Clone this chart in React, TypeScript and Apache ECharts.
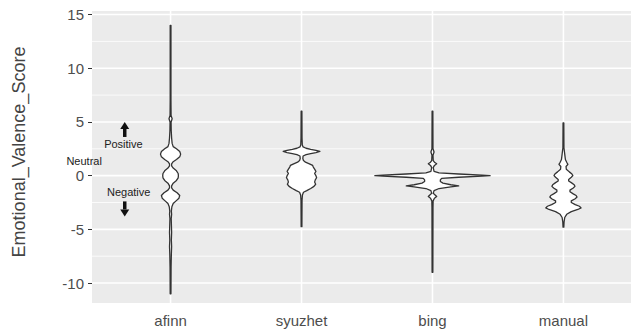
import React, { useEffect, useRef } from "react";
import * as echarts from "echarts";

// ---- data ----
const categories = ["afinn", "syuzhet", "bing", "manual"];
const yTicks = [-10, -5, 0, 5, 10, 15];
const yMinorBreaks = [-7.5, -2.5, 2.5, 7.5, 12.5];

// violin outlines: value (y) and half-width (in category units)
const afinnY = [14, 7, 5.6, 5.3, 5.0, 4.2, 3.5, 3.0, 2.7, 2.5, 2.25, 2.0, 1.75, 1.5, 1.3, 1.1, 0.9, 0.7, 0.45, 0.2, 0.0, -0.2, -0.45, -0.7, -0.95, -1.15, -1.35, -1.6, -1.85, -2.1, -2.35, -2.6, -2.9, -3.3, -3.6, -4.0, -5.3, -6.0, -6.6, -7.3, -8.5, -11];
const afinnW = [0.003, 0.003, 0.004, 0.012, 0.004, 0.005, 0.008, 0.012, 0.02, 0.045, 0.07, 0.077, 0.07, 0.045, 0.02, 0.008, 0.008, 0.02, 0.045, 0.058, 0.06, 0.058, 0.045, 0.02, 0.008, 0.008, 0.02, 0.05, 0.07, 0.064, 0.042, 0.02, 0.01, 0.006, 0.008, 0.005, 0.008, 0.006, 0.008, 0.006, 0.004, 0.003];

const syuzhetY = [6.0, 3.5, 2.85, 2.67, 2.55, 2.45, 2.35, 2.25, 2.15, 2.05, 1.95, 1.83, 1.6, 1.4, 1.25, 1.1, 0.95, 0.8, 0.6, 0.4, 0.2, 0.0, -0.2, -0.4, -0.6, -0.8, -1.0, -1.2, -1.4, -1.55, -1.8, -2.3, -4.75];
const syuzhetW = [0.003, 0.004, 0.006, 0.012, 0.035, 0.07, 0.11, 0.14, 0.11, 0.07, 0.035, 0.012, 0.01, 0.015, 0.03, 0.06, 0.085, 0.09, 0.1, 0.11, 0.1, 0.11, 0.115, 0.105, 0.1, 0.108, 0.095, 0.07, 0.04, 0.015, 0.007, 0.004, 0.003];

const bingY = [6, 2.5, 2.2, 1.9, 1.4, 1.25, 1.1, 0.95, 0.75, 0.4, 0.25, 0.15, 0.05, 0.0, -0.05, -0.15, -0.25, -0.4, -0.55, -0.7, -0.85, -0.95, -1.05, -1.2, -1.4, -1.65, -1.8, -1.95, -2.1, -2.35, -3, -9];
const bingW = [0.003, 0.004, 0.012, 0.004, 0.006, 0.015, 0.032, 0.015, 0.006, 0.012, 0.05, 0.2, 0.38, 0.44, 0.38, 0.2, 0.07, 0.06, 0.06, 0.08, 0.14, 0.2, 0.14, 0.05, 0.012, 0.006, 0.02, 0.032, 0.015, 0.005, 0.004, 0.003];

const manualY = [4.9, 2.6, 2.2, 1.8, 1.5, 1.25, 1.05, 0.85, 0.6, 0.35, 0.15, 0.0, -0.15, -0.35, -0.5, -0.65, -0.85, -1.0, -1.15, -1.35, -1.5, -1.7, -1.85, -2.0, -2.15, -2.35, -2.5, -2.7, -2.85, -3.0, -3.15, -3.35, -3.6, -3.9, -4.3, -4.8];
const manualW = [0.003, 0.004, 0.008, 0.012, 0.015, 0.025, 0.034, 0.02, 0.022, 0.045, 0.065, 0.072, 0.06, 0.04, 0.04, 0.06, 0.082, 0.088, 0.075, 0.05, 0.05, 0.075, 0.097, 0.104, 0.09, 0.06, 0.06, 0.09, 0.122, 0.135, 0.11, 0.06, 0.025, 0.01, 0.005, 0.003];

const violinY = [afinnY, syuzhetY, bingY, manualY];
const violinW = [afinnW, syuzhetW, bingW, manualW];

// annotations (data coordinates)
const annoLabels = ["Positive", "Neutral", "Negative"];
const annoX = [0.64, 0.34, 0.68];
const annoY = [2.9, 1.4, -1.5];
const arrowX = [0.65, 0.65];
const arrowFrom = [3.6, -2.4];
const arrowTo = [5.0, -3.8];

const FONT = "'Liberation Sans', Arial, sans-serif";

export default function App() {
  const ref = useRef<HTMLDivElement>(null);
  useEffect(() => {
    if (!ref.current) return;
    const chart = echarts.init(ref.current, undefined, { renderer: "svg" });

    const gridData: number[][] = [];
    yTicks.forEach((v) => gridData.push([0, v, 1]));
    yMinorBreaks.forEach((v) => gridData.push([0, v, 0]));
    categories.forEach((_, i) => gridData.push([1, i + 1, 1]));

    const option: any = {
      animation: false,
      backgroundColor: "#ffffff",
      textStyle: { fontFamily: FONT },
      grid: {
        left: 92,
        top: 11,
        width: 550,
        height: 292,
        show: true,
        backgroundColor: "#EBEBEB",
        borderWidth: 0,
      },
      xAxis: {
        type: "value",
        min: 0.4,
        max: 4.6,
        axisLine: { show: false },
        splitLine: { show: false },
        axisTick: {
          show: true,
          customValues: [1, 2, 3, 4],
          length: 4,
          lineStyle: { color: "#333333", width: 1 },
        },
        axisLabel: {
          customValues: [1, 2, 3, 4],
          formatter: (v: number) => categories[Math.round(v) - 1] ?? "",
          fontSize: 15,
          color: "#4D4D4D",
          margin: 10,
          fontFamily: FONT,
        },
      },
      yAxis: {
        type: "value",
        min: -11.86,
        max: 15.33,
        name: "Emotional_Valence_Score",
        nameLocation: "middle",
        nameGap: 64,
        nameTextStyle: { fontSize: 18, color: "#444444", fontFamily: FONT, padding: [0, 0, 0, 10] },
        axisLine: { show: false },
        splitLine: { show: false },
        axisTick: {
          show: true,
          customValues: yTicks,
          length: 4,
          lineStyle: { color: "#333333", width: 1 },
        },
        axisLabel: {
          customValues: yTicks,
          fontSize: 15,
          color: "#4D4D4D",
          margin: 8,
          fontFamily: FONT,
        },
      },
      series: [
        {
          type: "custom",
          name: "grid",
          silent: true,
          z: 1,
          data: gridData,
          renderItem: (params: any, api: any) => {
            const cs = params.coordSys;
            const orient = api.value(0);
            const v = api.value(1);
            const major = api.value(2) === 1;
            if (orient === 0) {
              const y = api.coord([1, v])[1];
              return {
                type: "line",
                shape: { x1: cs.x, y1: y, x2: cs.x + cs.width, y2: y },
                style: { stroke: "#FFFFFF", lineWidth: major ? 1.6 : 0.8 },
              };
            }
            const x = api.coord([v, 0])[0];
            return {
              type: "line",
              shape: { x1: x, y1: cs.y, x2: x, y2: cs.y + cs.height },
              style: { stroke: "#FFFFFF", lineWidth: 1.6 },
            };
          },
        },
        {
          type: "custom",
          name: "violins",
          z: 3,
          data: categories.map((_, i) => [i + 1, 0]),
          renderItem: (params: any, api: any) => {
            const i = params.dataIndex;
            const cx = i + 1;
            const ys = violinY[i];
            const ws = violinW[i];
            const pts: number[][] = [];
            for (let k = 0; k < ys.length; k++) pts.push(api.coord([cx + ws[k], ys[k]]));
            for (let k = ys.length - 1; k >= 0; k--) pts.push(api.coord([cx - ws[k], ys[k]]));
            return {
              type: "polygon",
              shape: { points: pts },
              style: { fill: "#FFFFFF", stroke: "#333333", lineWidth: 1.3, lineJoin: "round" },
            };
          },
        },
        {
          type: "custom",
          name: "arrows",
          z: 4,
          data: arrowX.map((x, i) => [x, arrowFrom[i], arrowTo[i]]),
          renderItem: (params: any, api: any) => {
            const p1 = api.coord([api.value(0), api.value(1)]);
            const p2 = api.coord([api.value(0), api.value(2)]);
            const dx = p2[0] - p1[0];
            const dy = p2[1] - p1[1];
            const len = Math.sqrt(dx * dx + dy * dy) || 1;
            const ux = dx / len;
            const uy = dy / len;
            const head = 7;
            const hw = 4.5;
            const bx = p2[0] - ux * head;
            const by = p2[1] - uy * head;
            return {
              type: "group",
              children: [
                {
                  type: "line",
                  shape: { x1: p1[0], y1: p1[1], x2: bx, y2: by },
                  style: { stroke: "#111111", lineWidth: 3.5 },
                },
                {
                  type: "polygon",
                  shape: {
                    points: [
                      [p2[0], p2[1]],
                      [bx - uy * hw, by + ux * hw],
                      [bx + uy * hw, by - ux * hw],
                    ],
                  },
                  style: { fill: "#111111" },
                },
              ],
            };
          },
        },
        {
          type: "custom",
          name: "annotations",
          z: 4,
          data: annoLabels.map((_, i) => [annoX[i], annoY[i], i]),
          renderItem: (params: any, api: any) => {
            const p = api.coord([api.value(0), api.value(1)]);
            return {
              type: "text",
              x: p[0],
              y: p[1],
              style: {
                text: annoLabels[params.dataIndex],
                align: "center",
                verticalAlign: "middle",
                fontSize: 11,
                fontFamily: FONT,
                fill: "#222222",
              },
            };
          },
        },
      ],
    };
    chart.setOption(option);
    return () => chart.dispose();
  }, []);
  return (
    <div style={{ position: "fixed", left: 0, top: 0, width: 631, height: 333, overflow: "hidden", background: "#fff" }}>
      <div ref={ref} style={{ width: 660, height: 333 }} />
    </div>
  );
}
